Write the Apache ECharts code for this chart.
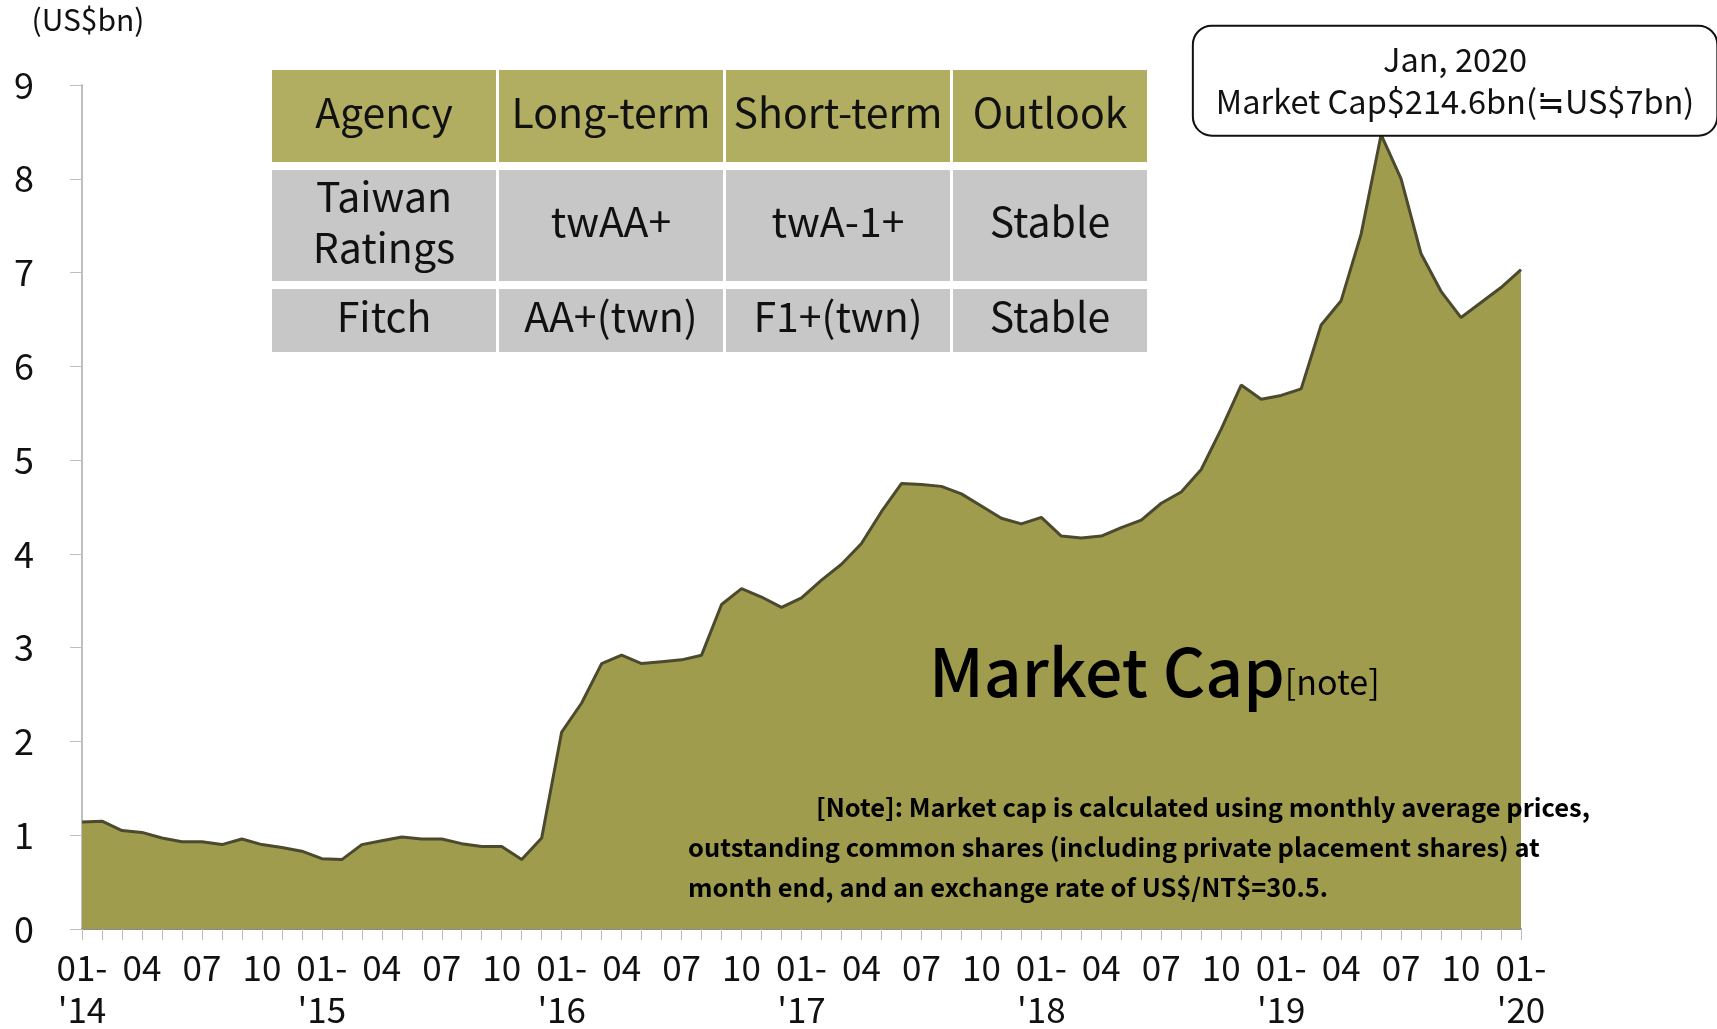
<!DOCTYPE html>
<html>
<head>
<meta charset="utf-8">
<script src="https://cdn.jsdelivr.net/npm/echarts@6/dist/echarts.min.js"></script>
<style>
  html, body { margin: 0; padding: 0; background: #fff; }
  #chart { width: 1717px; height: 1029px; }
</style>
</head>
<body>
<div id="chart"></div>
<script>
// monthly points, Jan 2014 .. Jan 2020
const years = ['2014', '2015', '2016', '2017', '2018', '2019', '2020'];
const monthNames = ['01', '02', '03', '04', '05', '06', '07', '08', '09', '10', '11', '12'];

// market cap, US$bn
const marketCap = [
  1.14, 1.15, 1.05, 1.03, 0.97, 0.93, 0.93, 0.90, 0.96, 0.90, 0.87, 0.83,
  0.75, 0.74, 0.90, 0.94, 0.98, 0.96, 0.96, 0.91, 0.88, 0.88, 0.74, 0.97,
  2.10, 2.41, 2.83, 2.92, 2.83, 2.85, 2.87, 2.92, 3.46, 3.63, 3.54, 3.43,
  3.53, 3.72, 3.89, 4.11, 4.45, 4.75, 4.74, 4.72, 4.64, 4.51, 4.38, 4.32,
  4.39, 4.19, 4.17, 4.19, 4.28, 4.36, 4.54, 4.66, 4.90, 5.33, 5.80, 5.65,
  5.69, 5.76, 6.44, 6.70, 7.41, 8.47, 8.00, 7.20, 6.80, 6.52, 6.68, 6.84,
  7.03
];

const tableHeader = ['Agency', 'Long-term', 'Short-term', 'Outlook'];
const tableRows = [
  ['Taiwan\nRatings', 'twAA+', 'twA-1+', 'Stable'],
  ['Fitch', 'AA+(twn)', 'F1+(twn)', 'Stable']
];

const calloutLines = ['Jan, 2020', 'Market Cap$214.6bn(≒US$7bn)'];
const noteLines = [
  '[Note]: Market cap is calculated using monthly average prices,',
  'outstanding common shares (including private placement shares) at',
  'month end, and an exchange rate of US$/NT$=30.5.'
];

const months = [];
years.forEach(y => monthNames.forEach(m => months.push(y + '-' + m)));
months.length = marketCap.length;

const FONT = '"Noto Sans CJK TC", "Noto Sans", sans-serif';
const peakIdx = marketCap.indexOf(Math.max(...marketCap));

// table cells
const colX = [[272, 496], [499, 723], [726, 950], [953, 1147]];
const rowY = [[70, 162], [170, 281], [289, 352]];
const tableEls = [];
[tableHeader].concat(tableRows).forEach((row, r) => {
  row.forEach((txt, c) => {
    const x0 = colX[c][0], x1 = colX[c][1], y0 = rowY[r][0], y1 = rowY[r][1];
    tableEls.push({
      type: 'rect',
      shape: { x: x0, y: y0, width: x1 - x0, height: y1 - y0 },
      style: { fill: r === 0 ? '#b1ae62' : '#c7c7c7' },
      z: 100
    });
    tableEls.push({
      type: 'text',
      x: (x0 + x1) / 2,
      y: (y0 + y1) / 2 - 4,
      style: {
        text: txt, fill: '#111', font: '41px ' + FONT,
        align: 'center', verticalAlign: 'middle', lineHeight: 51
      },
      z: 101
    });
  });
});

const chart = echarts.init(document.getElementById('chart'));

chart.setOption({
  animation: false,
  textStyle: { fontFamily: FONT },
  grid: { left: 82, right: 196, top: 85, bottom: 100, outerBoundsMode: 'none', containLabel: false },
  xAxis: {
    type: 'category',
    data: months,
    boundaryGap: false,
    axisLine: { lineStyle: { color: '#8a8a8a', width: 2 } },
    axisTick: { show: true, interval: 0, length: 11, lineStyle: { color: '#bdbdbd' } },
    axisLabel: {
      interval: 2,
      margin: 18,
      fontSize: 35,
      lineHeight: 42,
      color: '#111',
      formatter: v => {
        const [y, m] = v.split('-');
        return m === '01' ? "01-\n'" + y.slice(2) : m;
      }
    }
  },
  yAxis: {
    type: 'value',
    min: 0,
    max: 9,
    interval: 1,
    name: '(US$bn)',
    nameLocation: 'end',
    nameGap: 50,
    nameTextStyle: { fontSize: 30, color: '#111', align: 'center', padding: [0, 0, 0, 12] },
    splitLine: { show: false },
    axisLine: { show: true, lineStyle: { color: '#bfbfbf', width: 2 } },
    axisTick: { show: true, length: 12, lineStyle: { color: '#bfbfbf' } },
    axisLabel: { fontSize: 36, color: '#111', margin: 48 }
  },
  series: [{
    type: 'line',
    data: marketCap,
    symbol: 'none',
    lineStyle: { color: '#4b4a2e', width: 3 },
    areaStyle: { color: '#9f9c4d', opacity: 1 },
    markPoint: {
      symbol: 'circle',
      symbolSize: 0,
      data: [{ coord: [peakIdx, marketCap[peakIdx]] }],
      label: {
        show: true,
        position: 'top',
        distance: 0,
        offset: [74, 0],
        formatter: calloutLines.join('\n'),
        fontSize: 32.5,
        lineHeight: 42,
        color: '#111',
        align: 'center',
        backgroundColor: '#fff',
        borderColor: '#111',
        borderWidth: 2,
        borderRadius: 18,
        padding: [12, 22, 12, 22]
      }
    }
  }],
  graphic: tableEls.concat([
    {
      type: 'text',
      x: 929,
      y: 672,
      z: 100,
      style: {
        text: '{a|Market Cap}{b|[note]}',
        verticalAlign: 'middle',
        rich: {
          a: { fontSize: 66, fontFamily: FONT, fill: '#000', fontWeight: 500 },
          b: { fontSize: 34, fontFamily: FONT, fill: '#000', padding: [20, 0, 0, 0] }
        }
      }
    },
    {
      type: 'text',
      x: 816,
      y: 807,
      z: 100,
      style: {
        text: noteLines[0], fill: '#000', font: 'bold 25.5px ' + FONT,
        verticalAlign: 'middle'
      }
    },
    {
      type: 'text',
      x: 688,
      y: 827,
      z: 100,
      style: {
        text: noteLines.slice(1).join('\n'), fill: '#000', font: 'bold 25.5px ' + FONT,
        verticalAlign: 'top', lineHeight: 40
      }
    }
  ])
});
</script>
</body>
</html>
